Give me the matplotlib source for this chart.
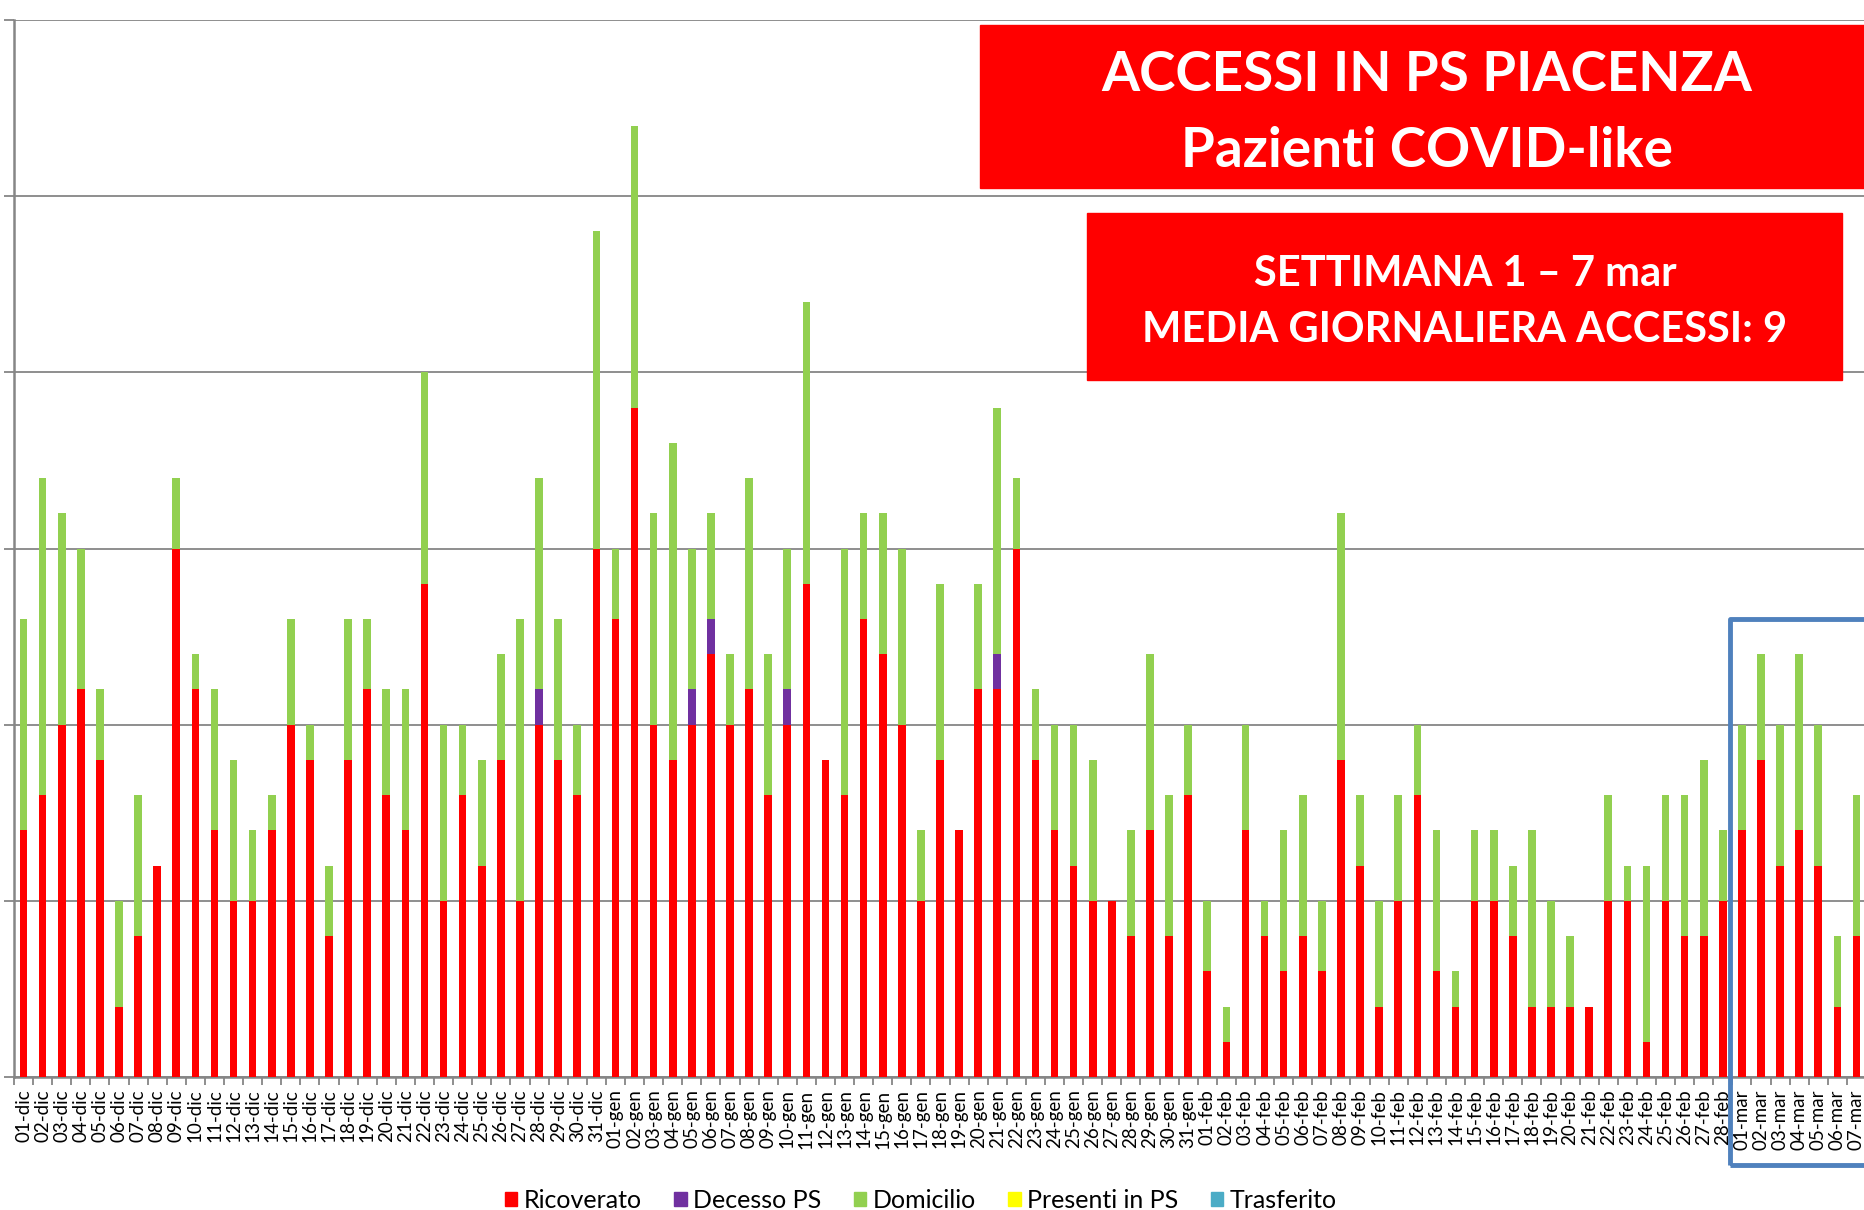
import matplotlib.pyplot as plt
from matplotlib.patches import Patch, Rectangle
import numpy as np

# days 01-dic .. 07-mar
months = [('dic', 31), ('gen', 31), ('feb', 28), ('mar', 7)]
labels = ['%02d-%s' % (d, m) for m, n in months for d in range(1, n + 1)]

ricoverato = [7, 8, 10, 11, 9, 2, 4, 6, 15, 11, 7, 5, 5, 7, 10, 9, 4, 9, 11, 8, 7, 14, 5, 8, 6, 9, 5, 10, 9, 8, 15,
              13, 19, 10, 9, 10, 12, 10, 11, 8, 10, 14, 9, 8, 13, 12, 10, 5, 9, 7, 11, 11, 15, 9, 7, 6, 5, 5, 4, 7, 4, 8,
              3, 1, 7, 4, 3, 4, 3, 9, 6, 2, 5, 8, 3, 2, 5, 5, 4, 2, 2, 2, 2, 5, 5, 1, 5, 4, 4, 5,
              7, 9, 6, 7, 6, 2, 4]
decesso = [0] * 27 + [1] + [0] * 3 + \
          [0, 0, 0, 0, 1, 1, 0, 0, 0, 1, 0, 0, 0, 0, 0, 0, 0, 0, 0, 0, 1, 0, 0, 0, 0, 0, 0, 0, 0, 0, 0] + \
          [0] * 28 + [0] * 7
domicilio = [6, 9, 6, 4, 2, 3, 4, 0, 2, 1, 4, 4, 2, 1, 3, 1, 2, 4, 2, 3, 4, 6, 5, 2, 3, 3, 8, 6, 4, 2, 9,
             2, 8, 6, 9, 4, 3, 2, 6, 4, 4, 8, 0, 7, 3, 4, 5, 2, 5, 0, 3, 7, 2, 2, 3, 4, 4, 0, 3, 5, 4, 2,
             2, 1, 3, 1, 4, 4, 2, 7, 2, 3, 3, 2, 4, 1, 2, 2, 2, 5, 3, 2, 0, 3, 1, 5, 3, 4, 5, 2,
             3, 3, 4, 5, 4, 2, 4]
presenti = [0] * 97
trasferito = [0] * 97

series = [('Ricoverato', ricoverato, '#FF0000'),
          ('Decesso PS', decesso, '#7030A0'),
          ('Domicilio', domicilio, '#92D050'),
          ('Presenti in PS', presenti, '#FFFF00'),
          ('Trasferito', trasferito, '#4BACC6')]

W, H = 1864, 1210
fig = plt.figure(figsize=(W / 100, H / 100), dpi=100)
ax = fig.add_axes([14 / W, 1 - 1077 / H, 1852 / W, 1057 / H])

x = np.arange(len(labels))
bottom = np.zeros(len(labels))
for name, vals, col in series:
    ax.bar(x, vals, width=0.4, bottom=bottom, color=col, linewidth=0, zorder=3)
    bottom += np.array(vals)

ax.set_xlim(-0.5, len(labels) - 0.5)
ax.set_ylim(0, 30)
ax.set_yticks(range(0, 31, 5))
ax.set_yticklabels([])
ax.grid(axis='y', color='#868686', lw=1.3, zorder=0)
ax.set_xticks(x)
ax.set_xticklabels(labels, rotation=90, fontsize=13.5, family='Lato')
ax.set_xticks(np.arange(-0.5, len(labels), 1), minor=True)
ax.tick_params(axis='x', which='major', length=0, pad=9)
ax.tick_params(axis='x', which='minor', length=6, color='#868686', width=1.3)
ax.tick_params(axis='y', length=7, color='#868686', width=1.3)
for s in ['top', 'right']:
    ax.spines[s].set_visible(False)
for s in ['left', 'bottom']:
    ax.spines[s].set_color('#868686')
    ax.spines[s].set_linewidth(1.8)


def fx(px):
    return px / W


def fy(py):
    return 1 - py / H


# title boxes
fig.patches.append(Rectangle((fx(980), fy(188)), fx(900), 163 / H, transform=fig.transFigure,
                             color='#FF0000', zorder=5))
fig.patches.append(Rectangle((fx(1087), fy(380)), fx(755), 167 / H, transform=fig.transFigure,
                             color='#FF0000', zorder=5))
fig.text(fx(1427), fy(75), 'ACCESSI IN PS PIACENZA', color='white', fontsize=39.5, weight='bold',
         family='Lato', ha='center', va='center', zorder=6)
fig.text(fx(1427), fy(151), 'Pazienti COVID-like', color='white', fontsize=39.5, weight='bold',
         family='Lato', ha='center', va='center', zorder=6)
fig.text(fx(1465), fy(274), 'SETTIMANA 1 \u2013 7 mar', color='white', fontsize=30, weight='bold',
         family='Lato', ha='center', va='center', zorder=6)
fig.text(fx(1465), fy(330), 'MEDIA GIORNALIERA ACCESSI: 9', color='white', fontsize=30, weight='bold',
         family='Lato', ha='center', va='center', zorder=6)

# highlight of the last week
fig.patches.append(Rectangle((fx(1730), fy(1165)), fx(150), 546 / H, transform=fig.transFigure,
                             fill=False, edgecolor='#4F81BD', lw=3.5, joinstyle='round', zorder=6))

handles = [Patch(color=c, label=n) for n, v, c in series]
fig.legend(handles=handles, loc='center', bbox_to_anchor=(0.494, 1 - 1200 / H), ncol=5, frameon=False,
           prop={'family': 'Lato', 'size': 18}, handlelength=0.5, handleheight=0.5, handletextpad=0.25,
           columnspacing=1.3, borderpad=0)

fig.savefig('out.png', dpi=100)
